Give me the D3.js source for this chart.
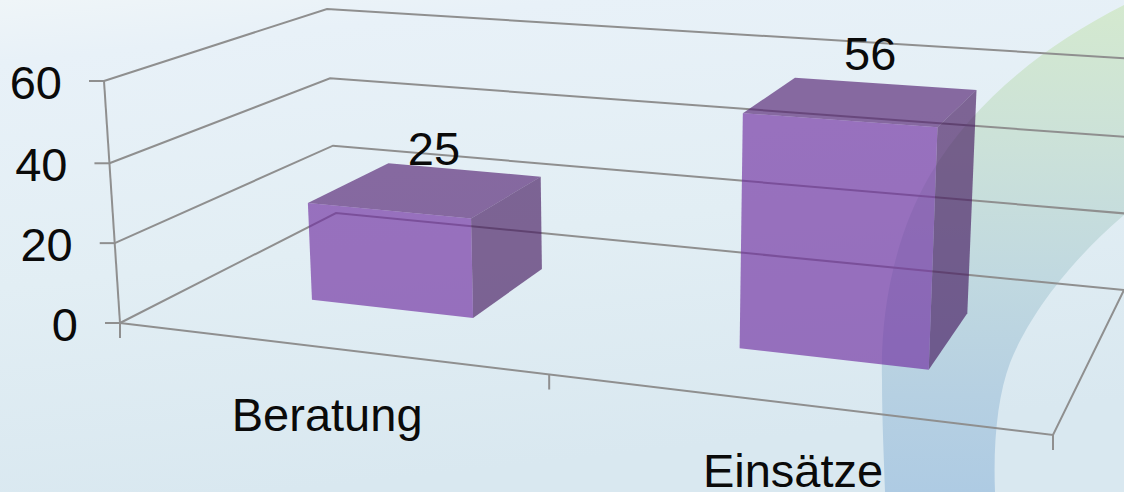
<!DOCTYPE html>
<html><head><meta charset="utf-8">
<script src="https://cdn.jsdelivr.net/npm/d3@7"></script>
<style>html,body{margin:0;padding:0;overflow:hidden;background:#e4eff6}svg{display:block}text{font-family:"Liberation Sans",Arial,sans-serif;fill:#0a0a0a}</style>
</head><body>
<svg id="c" width="1124" height="492"></svg>
<script>
const categories = ["Beratung", "Einsätze"];
const values = [25, 56];
const yTicks = [0, 20, 40, 60];

const W = 1124, H = 492;
const svg = d3.select("#c");
const defs = svg.append("defs");
const bg = defs.append("linearGradient").attr("id","bg").attr("x1",0).attr("y1",0).attr("x2",0.25).attr("y2",1);
[[0,"#eff5f8"],[0.12,"#e8f1f8"],[0.55,"#e2eef4"],[1,"#d9e8f0"]].forEach(s=>bg.append("stop").attr("offset",s[0]).attr("stop-color",s[1]));
const band = defs.append("linearGradient").attr("id","band").attr("x1",0).attr("y1",0).attr("x2",0).attr("y2",1);
[[0,"#d4e9cf"],[0.3,"#cbe1d9"],[0.55,"#c1d9e0"],[0.8,"#b6d0e2"],[1,"#aecbe3"]].forEach(s=>band.append("stop").attr("offset",s[0]).attr("stop-color",s[1]));
svg.append("rect").attr("width",W).attr("height",H).attr("fill","url(#bg)");
svg.append("path").attr("fill","url(#band)")
  .attr("d","M1124,5 C1045,45 975,100 930,175 C895,235 880,310 882,380 C882,420 884,460 885,492 L995,492 C993,440 998,395 1010,363 C1025,325 1060,270 1124,215 Z");

// Projection: three scales combined into a box projected by its 8 corners
const corners = {
  floor: {FL:[120,323], FR:[1053,435], BL:[336,213], BR:[1124,290]},
  top:   {FL:[104,81],  FR:[1067,151], BL:[327,9],   BR:[1138,59]}
};
const z = d3.scaleLinear().domain([0,20,40,60]).range([0,0.33,0.66,1]);
const perspective = d3.scaleLinear().domain([0,0.5,1]).range([0,0.46,1]);
const x = d3.scaleBand().domain(categories).range([-0.004,0.996]).paddingInner(0.604).paddingOuter(0.302);
const depth = d3.scaleLinear().domain([0,1]).range([0.335,0.74]);
function bil(c,u,v){
  return [0,1].map(i=>(1-u)*(1-v)*c.FL[i]+u*(1-v)*c.FR[i]+(1-u)*v*c.BL[i]+u*v*c.BR[i]);
}
function P(s,d,val){
  const u=perspective(s), t=z(val);
  const a=bil(corners.floor,u,d), b=bil(corners.top,u,d);
  return [a[0]+(b[0]-a[0])*t, a[1]+(b[1]-a[1])*t];
}
const line=d3.line();
const grid="#8f8f8f";
const gridG=svg.append("g").attr("fill","none").attr("stroke",grid).attr("stroke-width",2);
yTicks.forEach(t=>{
  gridG.append("path").attr("d",line([P(0,0,t),P(0,1,t),P(1,1,t)]));
  const p=P(0,0,t);
  gridG.append("path").attr("d",line([[p[0]-15,p[1]],p]));
});
gridG.append("path").attr("d",line([P(0,0,0),P(0,0,60)]));
gridG.append("path").attr("d",line([P(0,0,0),P(1,0,0),P(1,1,0)]));
[0,0.5,1].forEach(s=>{const p=P(s,0,0);gridG.append("path").attr("d",line([p,[p[0],p[1]+15]]));});

const bars=svg.append("g");
categories.forEach((c,i)=>{
  const s0=x(c), s1=s0+x.bandwidth(), v=values[i], d0=depth(0), d1=depth(1);
  const g=bars.append("g");
  g.append("path").attr("fill","#532072").attr("fill-opacity",.65)
    .attr("d",line([P(s0,d0,v),P(s1,d0,v),P(s1,d1,v),P(s0,d1,v)])+"Z");
  g.append("path").attr("fill","#451960").attr("fill-opacity",.65)
    .attr("d",line([P(s1,d0,0),P(s1,d1,0),P(s1,d1,v),P(s1,d0,v)])+"Z");
  g.append("path").attr("fill","#6e2d9f").attr("fill-opacity",.65)
    .attr("d",line([P(s0,d0,0),P(s1,d0,0),P(s1,d0,v),P(s0,d0,v)])+"Z");
  const lp=P((s0+s1)/2,(d0+d1)/2,v*1.045);
  svg.append("text").attr("x",lp[0]+7).attr("y",lp[1]-21).attr("text-anchor","middle")
    .attr("font-size",47).text(v);
  const cp=P((s0+s1)/2,0,0);
  svg.append("text").attr("x",cp[0]-4).attr("y",cp[1]+83).attr("text-anchor","middle")
    .attr("font-size",47).text(c);
});
yTicks.forEach(t=>{
  const p=P(0,0,t);
  svg.append("text").attr("x",p[0]-42).attr("y",p[1]+18).attr("text-anchor","end")
    .attr("font-size",47).text(t);
});
</script>
</body></html>
